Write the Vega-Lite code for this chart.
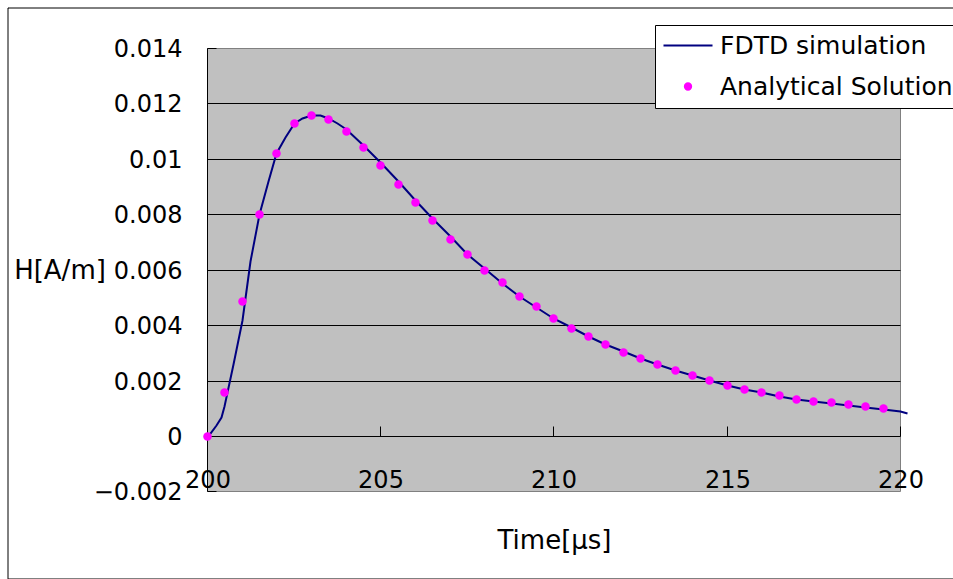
{
  "$schema": "https://vega.github.io/schema/vega-lite/v6.json",
  "width": 945,
  "height": 571,
  "autosize": {"type": "none"},
  "padding": {"left": 7.5, "top": 7.5, "right": 0, "bottom": 0.5},
  "background": "white",
  "config": {
    "font": "DejaVu Sans",
    "view": {"stroke": "black", "strokeWidth": 1, "strokeDash": [945, 571, 1516]},
    "axis": {
      "domain": false,
      "ticks": false,
      "tickSize": 0,
      "grid": false,
      "labelFont": "DejaVu Sans",
      "labelFontSize": 24,
      "labelColor": "black",
      "labelOverlap": false,
      "labelFlush": false,
      "labelBound": false,
      "titleFont": "DejaVu Sans",
      "titleFontSize": 26,
      "titleFontWeight": "normal",
      "titleColor": "black"
    },
    "legend": {
      "orient": "none",
      "legendX": 647.5,
      "legendY": 17.5,
      "title": null,
      "fillColor": "white",
      "strokeColor": "black",
      "padding": 8,
      "symbolSize": 40,
      "symbolStrokeWidth": 2,
      "symbolOffset": 12.5,
      "rowPadding": 15,
      "labelFont": "DejaVu Sans",
      "labelFontSize": 25,
      "labelColor": "black",
      "labelOffset": 19.5,
      "labelLimit": 500
    }
  },
  "layer": [
    {
      "data": {"values": [{}]},
      "mark": {"type": "rect", "fill": "#C0C0C0", "stroke": "#808080", "strokeWidth": 1},
      "encoding": {
        "x": {"datum": 200, "type": "quantitative", "scale": {"domain": [194.228, 221.501], "nice": false, "zero": false, "round": true}},
        "x2": {"datum": 220},
        "y": {"datum": -0.002, "type": "quantitative", "scale": {"domain": [-0.0051237, 0.0154794], "nice": false, "zero": false, "round": true}},
        "y2": {"datum": 0.014}
      }
    },
    {
      "data": {"values": [{"h": 0}, {"h": 0.002}, {"h": 0.004}, {"h": 0.006}, {"h": 0.008}, {"h": 0.01}, {"h": 0.012}]},
      "mark": {"type": "rule", "color": "black", "strokeWidth": 1},
      "encoding": {
        "x": {"datum": 200, "type": "quantitative", "scale": {"domain": [194.228, 221.501], "nice": false, "zero": false, "round": true}},
        "x2": {"datum": 220},
        "y": {"field": "h", "type": "quantitative", "scale": {"domain": [-0.0051237, 0.0154794], "nice": false, "zero": false, "round": true}}
      }
    },
    {
      "data": {"values": [{}]},
      "mark": {"type": "rule", "color": "black", "strokeWidth": 1},
      "encoding": {
        "x": {"datum": 200, "type": "quantitative", "scale": {"domain": [194.228, 221.501], "nice": false, "zero": false, "round": true}},
        "y": {"datum": -0.002, "type": "quantitative", "scale": {"domain": [-0.0051237, 0.0154794], "nice": false, "zero": false, "round": true}},
        "y2": {"datum": 0.014}
      }
    },
    {
      "data": {"values": [{"h": -0.002}, {"h": 0}, {"h": 0.002}, {"h": 0.004}, {"h": 0.006}, {"h": 0.008}, {"h": 0.01}, {"h": 0.012}, {"h": 0.014}]},
      "mark": {"type": "rule", "color": "black", "strokeWidth": 1},
      "encoding": {
        "x": {"datum": 200, "type": "quantitative", "scale": {"domain": [194.228, 221.501], "nice": false, "zero": false, "round": true}},
        "x2": {"datum": 200.26},
        "y": {"field": "h", "type": "quantitative", "scale": {"domain": [-0.0051237, 0.0154794], "nice": false, "zero": false, "round": true}}
      }
    },
    {
      "data": {"values": [{"t": 205}, {"t": 210}, {"t": 215}, {"t": 220}]},
      "mark": {"type": "rule", "color": "black", "strokeWidth": 1},
      "encoding": {
        "x": {"field": "t", "type": "quantitative", "scale": {"domain": [194.228, 221.501], "nice": false, "zero": false, "round": true}},
        "y": {"datum": 0, "type": "quantitative", "scale": {"domain": [-0.0051237, 0.0154794], "nice": false, "zero": false, "round": true}},
        "y2": {"datum": 0.00036}
      }
    },
    {
      "data": {"values": [
        {"t": 200, "h": 0}, {"t": 200.1, "h": 0.00012}, {"t": 200.25, "h": 0.0004}, {"t": 200.4, "h": 0.0007},
        {"t": 200.5, "h": 0.0011}, {"t": 200.75, "h": 0.0026}, {"t": 201, "h": 0.0042}, {"t": 201.25, "h": 0.0063},
        {"t": 201.5, "h": 0.008}, {"t": 201.75, "h": 0.0092}, {"t": 202, "h": 0.0102}, {"t": 202.25, "h": 0.0108},
        {"t": 202.5, "h": 0.0113}, {"t": 202.75, "h": 0.01148}, {"t": 203, "h": 0.0116}, {"t": 203.25, "h": 0.0116},
        {"t": 203.5, "h": 0.01146}, {"t": 203.75, "h": 0.0113}, {"t": 204, "h": 0.01106}, {"t": 204.5, "h": 0.0105},
        {"t": 205, "h": 0.00987}, {"t": 205.5, "h": 0.0092}, {"t": 206, "h": 0.0085}, {"t": 206.5, "h": 0.00785},
        {"t": 207, "h": 0.0072}, {"t": 207.5, "h": 0.00656}, {"t": 208, "h": 0.00605}, {"t": 208.5, "h": 0.00551},
        {"t": 209, "h": 0.00505}, {"t": 209.5, "h": 0.00465}, {"t": 210, "h": 0.00425}, {"t": 210.5, "h": 0.00393},
        {"t": 211, "h": 0.0036}, {"t": 211.5, "h": 0.00332}, {"t": 212, "h": 0.00306}, {"t": 212.5, "h": 0.00281},
        {"t": 213, "h": 0.0026}, {"t": 213.5, "h": 0.00238}, {"t": 214, "h": 0.0022}, {"t": 214.5, "h": 0.00202},
        {"t": 215, "h": 0.00184}, {"t": 215.5, "h": 0.00169}, {"t": 216, "h": 0.00158}, {"t": 216.5, "h": 0.00145},
        {"t": 217, "h": 0.00135}, {"t": 217.5, "h": 0.00126}, {"t": 218, "h": 0.00119}, {"t": 218.5, "h": 0.00112},
        {"t": 219, "h": 0.00105}, {"t": 219.5, "h": 0.00097}, {"t": 220, "h": 0.00091}, {"t": 220.2, "h": 0.00083}
      ]},
      "mark": {"type": "line", "strokeWidth": 2},
      "encoding": {
        "x": {
          "field": "t", "type": "quantitative",
          "scale": {"domain": [194.228, 221.501], "nice": false, "zero": false, "round": true},
          "axis": {
            "title": "Time[μs]",
            "values": [200, 205, 210, 215, 220],
            "format": "d",
            "labelPadding": -91.5,
            "labelBaseline": "alphabetic",
            "titleX": 546.5,
            "titleY": -38.5,
            "titleAlign": "center",
            "titleBaseline": "middle",
            "zindex": 1
          }
        },
        "y": {
          "field": "h", "type": "quantitative",
          "scale": {"domain": [-0.0051237, 0.0154794], "nice": false, "zero": false, "round": true},
          "axis": {
            "title": "H[A/m]",
            "values": [-0.002, 0, 0.002, 0.004, 0.006, 0.008, 0.01, 0.012, 0.014],
            "format": "~g",
            "labelPadding": -174.5,
            "labelBaseline": "middle",
            "labelOffset": 1,
            "titleAngle": 0,
            "titleX": 52,
            "titleY": 262.5,
            "titleAlign": "center",
            "titleBaseline": "middle",
            "zindex": 1
          }
        },
        "color": {
          "datum": "FDTD simulation", "type": "nominal",
          "scale": {"domain": ["FDTD simulation", "Analytical Solution"], "range": ["#000080", "#FF00FF"]}
        }
      }
    },
    {
      "data": {"values": [
        {"t": 200, "h": 0}, {"t": 200.5, "h": 0.00158}, {"t": 201, "h": 0.00488}, {"t": 201.5, "h": 0.008},
        {"t": 202, "h": 0.01022}, {"t": 202.5, "h": 0.0113}, {"t": 203, "h": 0.01159}, {"t": 203.5, "h": 0.01145},
        {"t": 204, "h": 0.01102}, {"t": 204.5, "h": 0.01043}, {"t": 205, "h": 0.00978}, {"t": 205.5, "h": 0.0091},
        {"t": 206, "h": 0.00843}, {"t": 206.5, "h": 0.00778}, {"t": 207, "h": 0.0071}, {"t": 207.5, "h": 0.00656},
        {"t": 208, "h": 0.006}, {"t": 208.5, "h": 0.00555}, {"t": 209, "h": 0.00505}, {"t": 209.5, "h": 0.00468},
        {"t": 210, "h": 0.00425}, {"t": 210.5, "h": 0.00389}, {"t": 211, "h": 0.0036}, {"t": 211.5, "h": 0.00332},
        {"t": 212, "h": 0.00303}, {"t": 212.5, "h": 0.00281}, {"t": 213, "h": 0.0026}, {"t": 213.5, "h": 0.00238},
        {"t": 214, "h": 0.0022}, {"t": 214.5, "h": 0.00201}, {"t": 215, "h": 0.00184}, {"t": 215.5, "h": 0.0017},
        {"t": 216, "h": 0.00157}, {"t": 216.5, "h": 0.00148}, {"t": 217, "h": 0.00135}, {"t": 217.5, "h": 0.00128},
        {"t": 218, "h": 0.00121}, {"t": 218.5, "h": 0.00114}, {"t": 219, "h": 0.00107}, {"t": 219.5, "h": 0.001}
      ]},
      "mark": {"type": "point", "filled": true, "size": 72, "opacity": 1},
      "encoding": {
        "x": {"field": "t", "type": "quantitative", "scale": {"domain": [194.228, 221.501], "nice": false, "zero": false, "round": true}},
        "y": {"field": "h", "type": "quantitative", "scale": {"domain": [-0.0051237, 0.0154794], "nice": false, "zero": false, "round": true}},
        "color": {
          "datum": "Analytical Solution", "type": "nominal",
          "scale": {"domain": ["FDTD simulation", "Analytical Solution"], "range": ["#000080", "#FF00FF"]}
        },
        "shape": {
          "datum": "Analytical Solution", "type": "nominal",
          "scale": {"domain": ["FDTD simulation", "Analytical Solution"], "range": ["M-7.75,0H7.75", "circle"]}
        }
      }
    }
  ]
}
